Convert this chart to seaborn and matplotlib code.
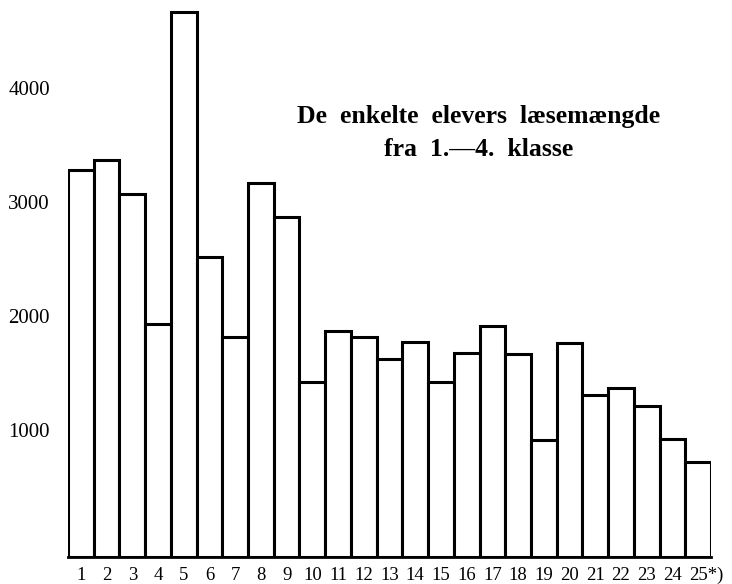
import matplotlib
matplotlib.use("Agg")
import matplotlib.pyplot as plt
import matplotlib.transforms as mtransforms
import seaborn as sns
import pandas as pd

# Data (pupil number -> amount read)
pupils = [str(i) for i in range(1, 25)] + ["25*)"]
amounts = [3395, 3480, 3185, 2045, 4780, 2630, 1930, 3280, 2980, 1535,
           1980, 1930, 1740, 1885, 1535, 1790, 2025, 1780, 1025, 1875,
           1420, 1480, 1325, 1035, 835]
ytick_vals = [1000, 2000, 3000, 4000]

df = pd.DataFrame({"pupil": pupils, "amount": amounts})

sns.set_theme(style="white")
plt.rcParams["font.family"] = ["Liberation Serif", "DejaVu Serif"]
plt.rcParams["text.color"] = "black"
plt.rcParams["xtick.color"] = "black"
plt.rcParams["ytick.color"] = "black"

W, H = 732, 584
fig = plt.figure(figsize=(W / 100, H / 100), dpi=100)
ax = fig.add_axes([68 / W, 27 / H, (711 - 68) / W, 557 / H])

sns.barplot(data=df, x="pupil", y="amount", order=pupils, color="white",
            saturation=1, edgecolor="black", linewidth=2.2, width=1, ax=ax)

ax.set_xlim(-0.5, len(pupils) - 0.5)
ax.set_ylim(0, 557 / 0.114)
ax.set_xlabel("")
ax.set_ylabel("")

for side in ["left", "top", "right"]:
    ax.spines[side].set_visible(False)
ax.spines["bottom"].set_color("black")
ax.spines["bottom"].set_linewidth(2)

ax.set_yticks(ytick_vals)
ax.set_yticklabels([str(v) for v in ytick_vals], fontsize=15)
ax.tick_params(axis="y", length=0, pad=13, labelcolor="black")
ax.tick_params(axis="x", length=0, pad=7, labelsize=13.5, labelcolor="black")

offset = mtransforms.ScaledTranslation(0, 13 / 100, fig.dpi_scale_trans)
for lab in ax.get_yticklabels():
    lab.set_transform(lab.get_transform() + offset)

# nudge the footnoted last label to the right, as in the original
last = ax.get_xticklabels()[-1]
last.set_transform(last.get_transform() +
                   mtransforms.ScaledTranslation(8 / 100, 0, fig.dpi_scale_trans))

fig.text(479 / W, 1 - 116 / H, "De  enkelte  elevers  læsemængde",
         ha="center", va="center", fontsize=18.5, fontweight="bold")
fig.text(479 / W, 1 - 150 / H, "fra  1.—4.  klasse",
         ha="center", va="center", fontsize=18.5, fontweight="bold")

fig.savefig("out.png", dpi=100, facecolor="white")
